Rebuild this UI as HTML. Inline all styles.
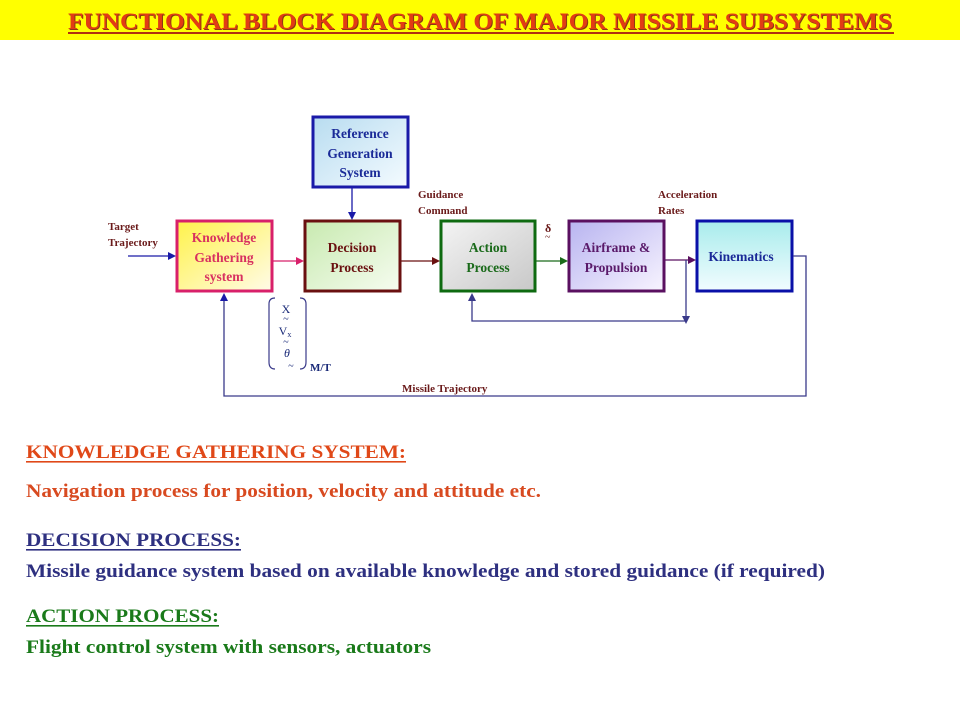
<!DOCTYPE html>
<html><head><meta charset="utf-8"><style>
html,body{margin:0;padding:0;background:#fff;}
svg{display:block;font-family:"Liberation Serif",serif;font-weight:bold;}
</style></head><body>
<svg width="960" height="720" viewBox="0 0 960 720" xmlns="http://www.w3.org/2000/svg">
<defs>
<linearGradient id="gRef" x1="0" y1="0" x2="1" y2="1"><stop offset="0" stop-color="#b8dcf0"/><stop offset="1" stop-color="#f4fbff"/></linearGradient>
<linearGradient id="gKn" x1="0" y1="0" x2="1" y2="1"><stop offset="0" stop-color="#fff24a"/><stop offset="1" stop-color="#fffbe8"/></linearGradient>
<linearGradient id="gDe" x1="0" y1="0" x2="1" y2="1"><stop offset="0" stop-color="#c8eab0"/><stop offset="1" stop-color="#f6fcf0"/></linearGradient>
<linearGradient id="gAc" x1="0" y1="0" x2="1" y2="1"><stop offset="0" stop-color="#f4f4f4"/><stop offset="1" stop-color="#c8c8c8"/></linearGradient>
<linearGradient id="gAi" x1="0" y1="0" x2="1" y2="1"><stop offset="0" stop-color="#b8b4f0"/><stop offset="1" stop-color="#f8f4ff"/></linearGradient>
<linearGradient id="gKi" x1="0" y1="0" x2="0" y2="1"><stop offset="0" stop-color="#a8ecec"/><stop offset="1" stop-color="#f2fcff"/></linearGradient>
</defs>
<rect x="0" y="0" width="960" height="40" fill="#ffff00"/>
<text x="69" y="30" font-size="23" fill="#8a3a10" textLength="824" lengthAdjust="spacingAndGlyphs">FUNCTIONAL BLOCK DIAGRAM OF MAJOR MISSILE SUBSYSTEMS</text>
<text x="68" y="29" font-size="23" fill="#e23c14" textLength="824" lengthAdjust="spacingAndGlyphs">FUNCTIONAL BLOCK DIAGRAM OF MAJOR MISSILE SUBSYSTEMS</text>
<rect x="68" y="32" width="826" height="2" fill="#b03010"/>

<!-- boxes -->
<rect x="313" y="117" width="95" height="70" fill="url(#gRef)" stroke="#1a1aa8" stroke-width="3"/>
<rect x="177" y="221" width="95" height="70" fill="url(#gKn)" stroke="#d8206a" stroke-width="3"/>
<rect x="305" y="221" width="95" height="70" fill="url(#gDe)" stroke="#6a1010" stroke-width="3"/>
<rect x="441" y="221" width="94" height="70" fill="url(#gAc)" stroke="#0e6a10" stroke-width="3"/>
<rect x="569" y="221" width="95" height="70" fill="url(#gAi)" stroke="#5a1060" stroke-width="3"/>
<rect x="697" y="221" width="95" height="70" fill="url(#gKi)" stroke="#0a10a8" stroke-width="3"/>

<g font-size="13.5" text-anchor="middle">
<text x="360" y="138" fill="#1a2a98">Reference</text>
<text x="360" y="158" fill="#1a2a98">Generation</text>
<text x="360" y="177" fill="#1a2a98">System</text>
<text x="224" y="242" fill="#d83060">Knowledge</text>
<text x="224" y="262" fill="#d83060">Gathering</text>
<text x="224" y="281" fill="#d83060">system</text>
<text x="352" y="252" fill="#6a1010">Decision</text>
<text x="352" y="272" fill="#6a1010">Process</text>
<text x="488" y="252" fill="#1a6a1a">Action</text>
<text x="488" y="272" fill="#1a6a1a">Process</text>
<text x="616" y="252" fill="#5a1a6a">Airframe &amp;</text>
<text x="616" y="272" fill="#5a1a6a">Propulsion</text>
<text x="741" y="261" fill="#1a2a98">Kinematics</text>
</g>

<!-- connectors -->
<g fill="none" stroke-width="1.3">
<line x1="128" y1="256" x2="170" y2="256" stroke="#1a1aa8"/>
<line x1="273" y1="261" x2="298" y2="261" stroke="#d8206a"/>
<line x1="352" y1="188" x2="352" y2="213" stroke="#1a1aa8"/>
<line x1="401" y1="261" x2="434" y2="261" stroke="#6a1010"/>
<line x1="536" y1="261" x2="562" y2="261" stroke="#1a6a1a"/>
<line x1="665" y1="260" x2="690" y2="260" stroke="#5a1060"/>
<polyline points="686,260 686,316" stroke="#3a3a8a"/>
<polyline points="686,321 472,321 472,300" stroke="#3a3a8a"/>
<polyline points="793,256 806,256 806,396 224,396 224,300" stroke="#3a3a8a"/>
</g>
<g>
<polygon points="176,256 168,252 168,260" fill="#1a1aa8"/>
<polygon points="304,261 296,257 296,265" fill="#d8206a"/>
<polygon points="352,220 348,212 356,212" fill="#1a1aa8"/>
<polygon points="440,261 432,257 432,265" fill="#6a1010"/>
<polygon points="568,261 560,257 560,265" fill="#1a6a1a"/>
<polygon points="696,260 688,256 688,264" fill="#5a1060"/>
<polygon points="686,324 682,316 690,316" fill="#3a3a8a"/>
<polygon points="472,293 468,301 476,301" fill="#3a3a8a"/>
<polygon points="224,293 220,301 228,301" fill="#1a1aa8"/>
</g>

<!-- labels -->
<g font-size="11" fill="#6a1a1a">
<text x="108" y="230">Target</text>
<text x="108" y="246">Trajectory</text>
<text x="418" y="198">Guidance</text>
<text x="418" y="214">Command</text>
<text x="658" y="198">Acceleration</text>
<text x="658" y="214">Rates</text>
<text x="402" y="392">Missile Trajectory</text>
<text x="545" y="232" font-size="12">δ</text>
<text x="545" y="240" font-size="10" font-weight="normal">~</text>
</g>
<!-- vector bracket -->
<g fill="none" stroke="#3a3a8a" stroke-width="1.2">
<path d="M275,298 Q269,298 269,304 L269,362 Q269,369 275,369"/>
<path d="M300,298 Q306,298 306,304 L306,362 Q306,369 300,369"/>
</g>
<g font-size="12" font-weight="normal" fill="#1a2a78" text-anchor="middle" font-family="Liberation Serif,serif">
<text x="286" y="313">X</text>
<text x="286" y="322" font-size="10">~</text>
<text x="285" y="335">V<tspan font-size="8" dy="2">x</tspan></text>
<text x="286" y="345" font-size="10">~</text>
<text x="287" y="357" font-style="italic">θ</text>
<text x="291" y="369" font-size="10">~</text>
</g>
<text x="310" y="371" font-size="11" fill="#1a2a78">M/T</text>

<!-- description -->
<g font-size="19">
<text x="26" y="458" fill="#e04818" textLength="380" lengthAdjust="spacingAndGlyphs">KNOWLEDGE  GATHERING  SYSTEM:</text>
<rect x="26" y="461" width="380" height="1.6" fill="#e04818"/>
<text x="26" y="497" fill="#d84a20" textLength="515" lengthAdjust="spacingAndGlyphs">Navigation process  for position, velocity  and attitude etc.</text>
<text x="26" y="546" fill="#2e3080" textLength="215" lengthAdjust="spacingAndGlyphs">DECISION  PROCESS:</text>
<rect x="26" y="549" width="215" height="1.6" fill="#2e3080"/>
<text x="26" y="577" fill="#2e3080" textLength="799" lengthAdjust="spacingAndGlyphs">Missile guidance system based on available knowledge and stored guidance (if required)</text>
<text x="26" y="622" fill="#1a7a1a" textLength="193" lengthAdjust="spacingAndGlyphs">ACTION PROCESS:</text>
<rect x="26" y="625" width="193" height="1.6" fill="#1a7a1a"/>
<text x="26" y="653" fill="#1a7a1a" textLength="405" lengthAdjust="spacingAndGlyphs">Flight control system with sensors, actuators</text>
</g>
</svg>
</body></html>
